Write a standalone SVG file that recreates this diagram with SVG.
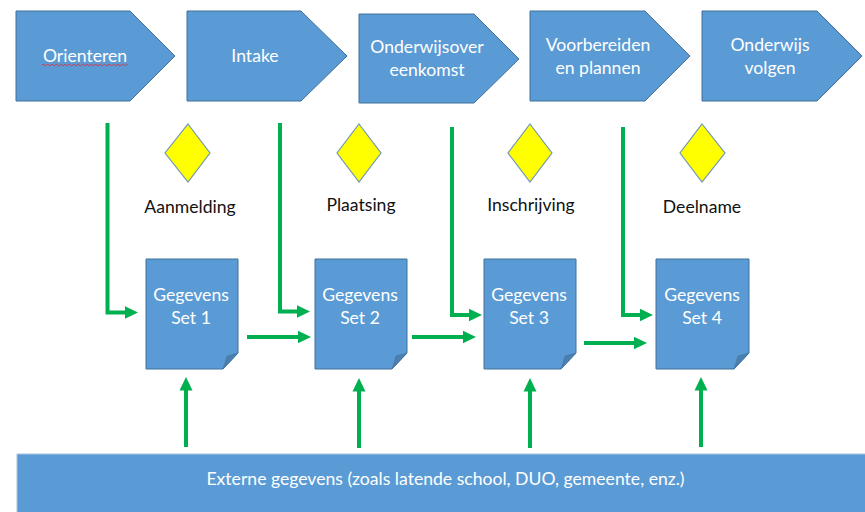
<svg xmlns="http://www.w3.org/2000/svg" width="865" height="512" viewBox="0 0 865 512">
<style>
.b{fill:#5b9bd5;stroke:#41719c;stroke-width:1}
.d{fill:#ffff00;stroke:#6f97b5;stroke-width:1.2}
.f{fill:#4a7fb0;stroke:#41719c;stroke-width:.5}
text{font-family:Lato,"Liberation Sans",sans-serif;text-anchor:middle;font-size:17.6px}
.w{fill:#fff}
.k{fill:#111}
.c path{fill:none;stroke:#00b050;stroke-width:4}
</style>
<defs>
<marker id="a" markerUnits="userSpaceOnUse" markerWidth="14" markerHeight="14" refX="0.5" refY="7" orient="auto"><path d="M0 0.5L13.500 7L0 13.500Z" fill="#00b050"/></marker>
</defs>
<rect width="865" height="512" fill="#fff"/>
<g id="step-orienteren"><path class="b" d="M16 11H130L175 56L130 101H16Z"/><text class="w" x="85" y="62">Orienteren</text><path d="M42 65q1.1-1.600 2.200 0t2.200 0 2.200 0 2.200 0 2.200 0 2.200 0 2.200 0 2.200 0 2.200 0 2.200 0 2.200 0 2.200 0 2.200 0 2.200 0 2.200 0 2.200 0 2.200 0 2.200 0 2.200 0 2.200 0 2.200 0 2.200 0 2.200 0 2.200 0 2.200 0 2.200 0 2.200 0 2.200 0 2.200 0 2.200 0 2.200 0 2.200 0 2.200 0 2.200 0 2.200 0 2.200 0 2.200 0 2.200 0 2.200 0" fill="none" stroke="#d23a4a" stroke-width="1"/></g>
<g id="step-intake"><path class="b" d="M187 11H301L347 56L301 101H187Z"/><text class="w" x="255" y="62">Intake</text></g>
<g id="step-overeenkomst"><path class="b" d="M359 14H474L519 59L474 103H359Z"/><text class="w" x="427" y="53">Onderwijsover</text><text class="w" x="427" y="76">eenkomst</text></g>
<g id="step-plannen"><path class="b" d="M530 11H645L690 56L645 101H530Z"/><text class="w" x="598" y="51">Voorbereiden</text><text class="w" x="598" y="74">en plannen</text></g>
<g id="step-volgen"><path class="b" d="M702 11H817L862 56L817 101H702Z"/><text class="w" x="770" y="51">Onderwijs</text><text class="w" x="770" y="74">volgen</text></g>
<g id="ms-aanmelding"><path class="d" d="M188 124L210 153L188 182L165 153Z"/><text class="k" x="190" y="213">Aanmelding</text></g>
<g id="ms-plaatsing"><path class="d" d="M359 124L381 153L359 182L337 153Z"/><text class="k" x="361" y="211">Plaatsing</text></g>
<g id="ms-inschrijving"><path class="d" d="M530 124L552 153L530 182L508 153Z"/><text class="k" x="531" y="211">Inschrijving</text></g>
<g id="ms-deelname"><path class="d" d="M702 124L725 153L702 182L680 153Z"/><text class="k" x="702" y="213">Deelname</text></g>
<g id="set-1"><path class="b" d="M146 259H238V353L223 369H146Z"/><path class="f" d="M223 369L227 356L238 353Z"/><text class="w" x="191" y="301">Gegevens</text><text class="w" x="191" y="324">Set 1</text></g>
<g id="set-2"><path class="b" d="M315 259H407V353L392 369H315Z"/><path class="f" d="M392 369L396 356L407 353Z"/><text class="w" x="360" y="301">Gegevens</text><text class="w" x="360" y="324">Set 2</text></g>
<g id="set-3"><path class="b" d="M484 259H576V353L561 369H484Z"/><path class="f" d="M561 369L565 356L576 353Z"/><text class="w" x="529" y="301">Gegevens</text><text class="w" x="529" y="324">Set 3</text></g>
<g id="set-4"><path class="b" d="M656 259H749V353L734 369H656Z"/><path class="f" d="M734 369L738 356L749 353Z"/><text class="w" x="702" y="301">Gegevens</text><text class="w" x="702" y="324">Set 4</text></g>
<g id="extern"><rect x="17" y="454" width="849" height="59" fill="#5b9bd5" stroke="#a9c4dc" stroke-width="1"/><text class="w" x="445.500" y="485">Externe gegevens (zoals latende school, DUO, gemeente, enz.)</text></g>
<g id="connectors" class="c">
<path marker-end="url(#a)" d="M107.500 123V312.500H125"/>
<path marker-end="url(#a)" d="M280 123V311.500H297"/>
<path marker-end="url(#a)" d="M452 127V315H469"/>
<path marker-end="url(#a)" d="M623 127V315H640"/>
<path marker-end="url(#a)" d="M247 337H298"/>
<path marker-end="url(#a)" d="M412 337H463"/>
<path marker-end="url(#a)" d="M584 343H634"/>
<path marker-end="url(#a)" d="M186 447V390"/>
<path marker-end="url(#a)" d="M359 448V391"/>
<path marker-end="url(#a)" d="M530 448V391"/>
<path marker-end="url(#a)" d="M701 447V390"/>
</g>
</svg>
